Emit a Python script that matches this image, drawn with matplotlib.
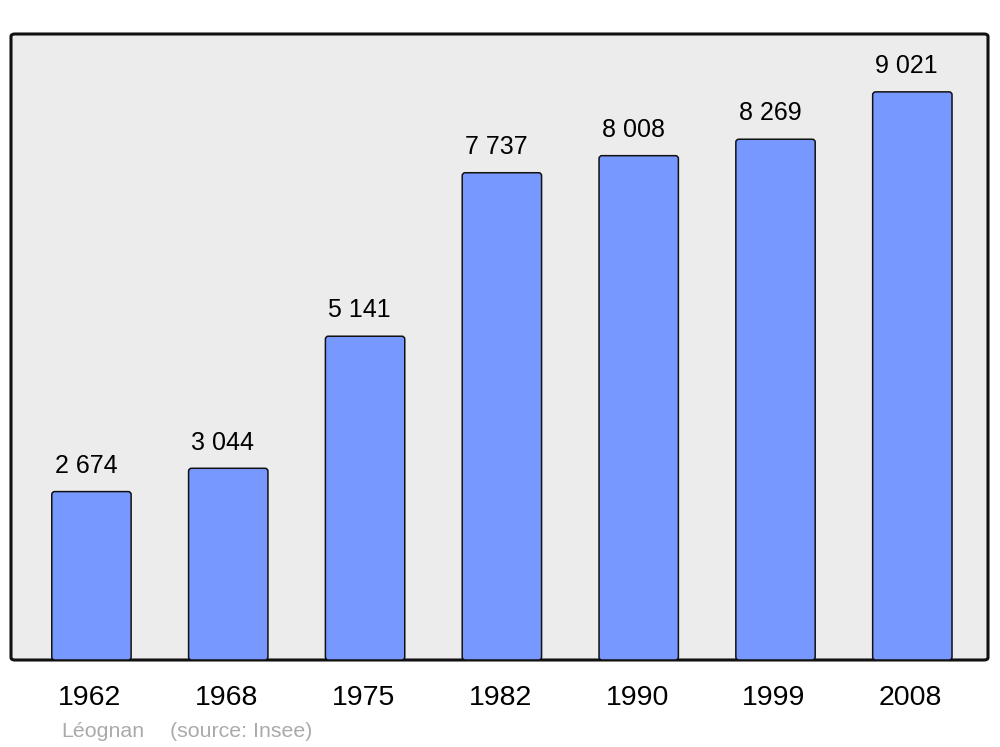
import matplotlib
matplotlib.use("Agg")
import matplotlib.pyplot as plt
from matplotlib.patches import FancyBboxPatch
from matplotlib.transforms import offset_copy

years = ["1962", "1968", "1975", "1982", "1990", "1999", "2008"]
population = [2674, 3044, 5141, 7737, 8008, 8269, 9021]
value_labels = ["2 674", "3 044", "5 141", "7 737", "8 008", "8 269", "9 021"]
title_text = "Léognan"
source_text = "(source: Insee)"

plt.rcParams['font.family'] = ['Liberation Sans', 'DejaVu Sans']

W, H = 1000, 747
fig = plt.figure(figsize=(W / 100, H / 100), dpi=100)
fig.patch.set_facecolor("white")

ax_l, ax_r, ax_t, ax_b = 11, 988, 34, 660
ax = fig.add_axes([ax_l / W, (H - ax_b) / H, (ax_r - ax_l) / W, (ax_b - ax_t) / H])
ax.set_facecolor("none")
for s in ax.spines.values():
    s.set_visible(False)
ax.set_xticks([])
ax.set_yticks([])

frame = FancyBboxPatch((0, 0), 1, 1, boxstyle="round,pad=0,rounding_size=0.004",
                       transform=ax.transAxes, facecolor="#ececec",
                       edgecolor="#111111", linewidth=2.2, zorder=0, clip_on=False)
ax.add_patch(frame)

xlim = (-0.588, 6.553)
ylim = (0, 9940)
ax.set_xlim(*xlim)
ax.set_ylim(*ylim)

x = list(range(len(years)))
bars = ax.bar(x, population, width=0.58, color="#7799ff", edgecolor="#111111",
              linewidth=1.1, zorder=2)

# replace with rounded-corner boxes of the same geometry
px_per_x = (ax_r - ax_l) / (xlim[1] - xlim[0])
px_per_y = (ax_b - ax_t) / (ylim[1] - ylim[0])
r_px = 3.0
aspect = px_per_x / px_per_y
for b in bars:
    b.set_visible(False)
    rb = FancyBboxPatch((b.get_x(), b.get_y()), b.get_width(), b.get_height(),
                        boxstyle=f"round,pad=0,rounding_size={r_px / px_per_x}",
                        mutation_aspect=aspect, facecolor="#7799ff",
                        edgecolor="#111111", linewidth=1.1, zorder=2)
    ax.add_patch(rb)

for xi, v, lab in zip(x, population, value_labels):
    ax.annotate(lab, (xi, v), xytext=(-4, 13.5), textcoords="offset points",
                ha="center", va="baseline", fontsize=18, color="black")

trans = offset_copy(ax.get_xaxis_transform(), fig=fig, x=0, y=-45 * 0.72, units="points")
for xi, yr in zip(x, years):
    ax.text(xi - 0.012, 0, yr, transform=trans, ha="center", va="baseline",
            fontsize=20.5, color="black")

fig.text(61 / W, 1 - 737 / H, title_text, ha="left", va="baseline",
         fontsize=15.4, color="#aaaaaa")
fig.text(170 / W, 1 - 737 / H, source_text, ha="left", va="baseline",
         fontsize=15.4, color="#aaaaaa")

fig.savefig("out.png", dpi=100)
